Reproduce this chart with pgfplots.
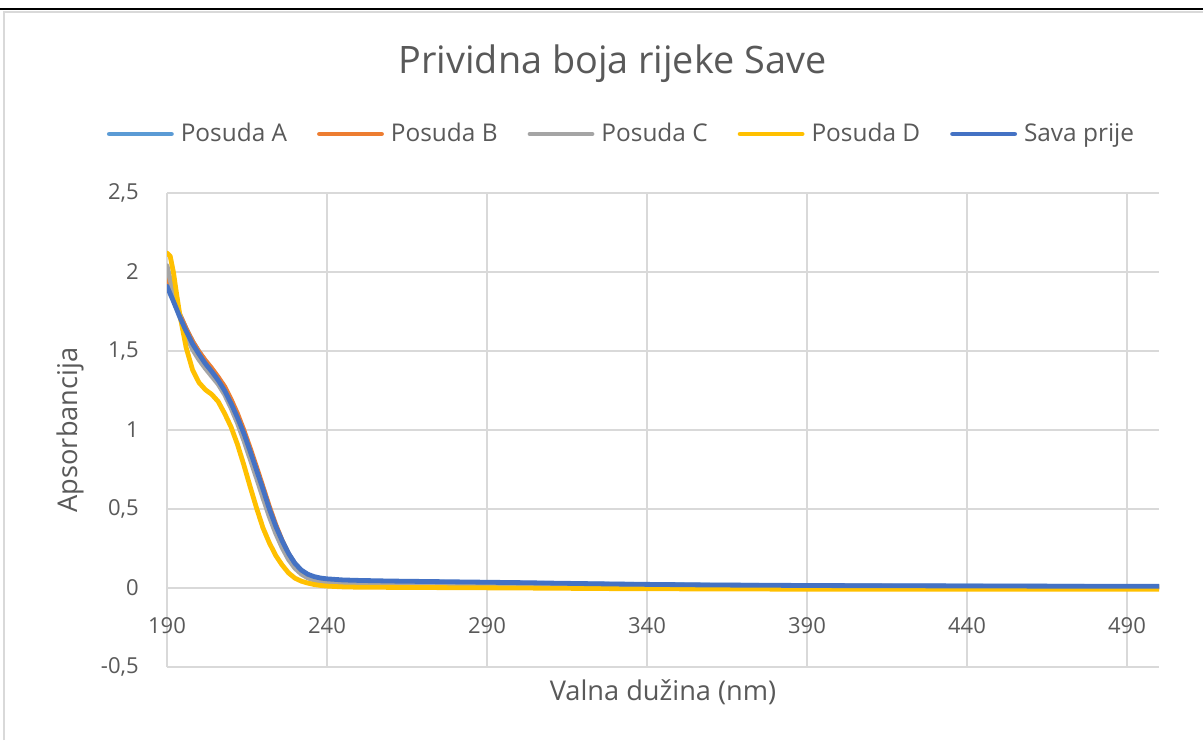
\documentclass[border=0pt]{standalone}
\usepackage{pgfplots}
\usepackage{pgfplotstable}
\pgfplotsset{compat=1.18}
\usepackage{fontspec}
\setmainfont{Open Sans}
\definecolor{textgray}{HTML}{595959}
\definecolor{gridgray}{HTML}{D9D9D9}
\definecolor{cA}{HTML}{5B9BD5}
\definecolor{cB}{HTML}{ED7D31}
\definecolor{cC}{HTML}{A5A5A5}
\definecolor{cD}{HTML}{FFC000}
\definecolor{cS}{HTML}{4472C4}
\pgfplotstableread{
x    A      B      C      D      S
190  1.93   1.97   2.04   2.12   1.91
191  1.88   1.905  1.95   2.10   1.862
192  1.83   1.84   1.87   2.00   1.815
193  1.78   1.785  1.795  1.86   1.765
194  1.73   1.73   1.72   1.73   1.715
196  1.64   1.64   1.60   1.52   1.625
198  1.56   1.56   1.51   1.38   1.545
200  1.495  1.495  1.445  1.30   1.48
202  1.437  1.44   1.39   1.255  1.42
204  1.385  1.39   1.34   1.225  1.37
206  1.33   1.335  1.29   1.18   1.315
208  1.265  1.275  1.225  1.105  1.25
210  1.185  1.195  1.14   1.02   1.17
212  1.09   1.105  1.045  0.91   1.08
214  0.985  1.0    0.935  0.78   0.98
216  0.87   0.885  0.815  0.64   0.865
218  0.75   0.765  0.695  0.505  0.745
220  0.628  0.64   0.57   0.38   0.625
222  0.503  0.515  0.45   0.285  0.50
224  0.39   0.40   0.345  0.205  0.39
226  0.297  0.30   0.255  0.145  0.298
228  0.215  0.215  0.18   0.095  0.218
230  0.153  0.152  0.125  0.062  0.155
232  0.11   0.108  0.088  0.043  0.113
234  0.082  0.078  0.064  0.031  0.087
236  0.066  0.06   0.05   0.022  0.072
238  0.056  0.048  0.041  0.016  0.063
240  0.05   0.041  0.035  0.012  0.058
245  0.043  0.033  0.028  0.007  0.051
250  0.04   0.03   0.025  0.005  0.048
260  0.038  0.028  0.023  0.004  0.044
280  0.035  0.025  0.02   0.002  0.039
300  0.031  0.023  0.018  0.0    0.034
330  0.024  0.018  0.014  -0.004 0.025
360  0.018  0.014  0.01   -0.006 0.019
400  0.014  0.011  0.007  -0.008 0.015
440  0.012  0.009  0.005  -0.008 0.013
480  0.01   0.008  0.004  -0.008 0.011
500  0.01   0.008  0.004  -0.008 0.011
}\datatable
\begin{document}
\begin{tikzpicture}
\useasboundingbox (0,0) rectangle (601.5pt,370pt);
\fill[white] (0,0) rectangle (601.5pt,370pt);
% page rule and chart frame
\draw[black, line width=1pt] (0pt,365.5pt) -- (601.5pt,365.5pt);
\draw[gridgray, line width=1pt] (2pt,0pt) -- (2pt,364pt) -- (601.5pt,364pt);
\begin{axis}[
  at={(83.5pt,36.5pt)}, anchor=south west,
  scale only axis, width=496pt, height=237pt,
  xmin=190, xmax=500, ymin=-0.5, ymax=2.5,
  xtick={190,240,290,340,390,440,490},
  xticklabels={190,240,290,340,390,440,490},
  ytick={-0.5,0,0.5,1,1.5,2,2.5},
  yticklabels={{-0,5},{0},{0,5},{1},{1,5},{2},{2,5}},
  grid=major,
  major grid style={draw=gridgray, line width=1.1pt},
  axis line style={draw=none},
  tick style={draw=none},
  ticklabel style={font=\fontsize{11pt}{13pt}\selectfont, text=textgray, inner sep=0pt},
  xticklabel style={anchor=north, yshift=25pt},
  yticklabel style={anchor=east, xshift=-14pt},
  every axis x label/.style={at={(rel axis cs:0.5,0)}, anchor=center, yshift=-12.5pt, font=\fontsize{13.6pt}{16pt}\selectfont, text=textgray},
  every axis y label/.style={at={([xshift=-48.5pt]rel axis cs:0,0.5)}, anchor=center, rotate=90, font=\fontsize{13.6pt}{16pt}\selectfont, text=textgray},
  xlabel={Valna dužina (nm)},
  ylabel={Apsorbancija},
  title={Prividna boja rijeke Save},
  every axis title/.style={at={(rel axis cs:0.449,1)}, anchor=center, yshift=64.5pt, font=\fontsize{18.9pt}{22pt}\selectfont, text=textgray},
  legend columns=5,
  legend image code/.code={\draw[#1] (0pt,0pt) -- (31pt,0pt);},
  legend style={at={(rel axis cs:-0.0605,1)}, anchor=west, yshift=29.5pt,
    draw=none, fill=none, inner sep=0pt, outer sep=0pt,
    font=\fontsize{12.2pt}{14pt}\selectfont, text=textgray,
    nodes={inner sep=0pt, anchor=west},
    /tikz/every odd column/.append style={column sep=3.5pt},
    /tikz/every even column/.append style={column sep=15pt}},
  every axis plot/.append style={line width=2.4pt, line join=round, line cap=round},
]
\addplot[cA] table[x=x, y=A] {\datatable};
\addlegendentry{Posuda A}
\addplot[cB] table[x=x, y=B] {\datatable};
\addlegendentry{Posuda B}
\addplot[cC] table[x=x, y=C] {\datatable};
\addlegendentry{Posuda C}
\addplot[cD] table[x=x, y=D] {\datatable};
\addlegendentry{Posuda D}
\addplot[cS] table[x=x, y=S] {\datatable};
\addlegendentry{Sava prije}
\end{axis}
\end{tikzpicture}
\end{document}
